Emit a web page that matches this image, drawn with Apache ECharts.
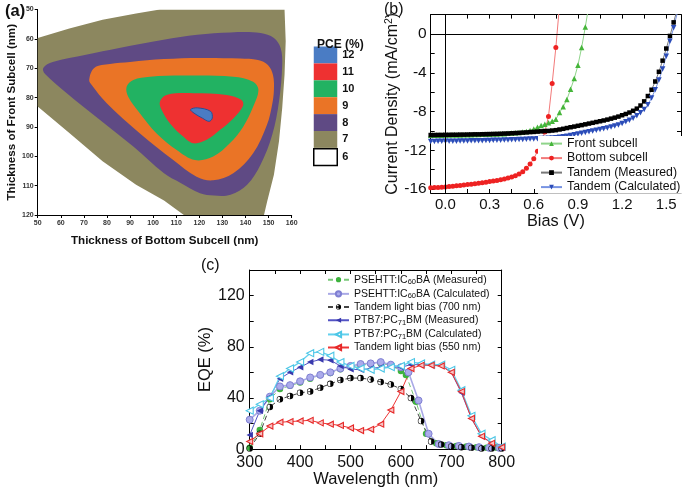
<!DOCTYPE html>
<html><head><meta charset="utf-8">
<script src="https://cdn.jsdelivr.net/npm/echarts@6/dist/echarts.min.js"></script>
<style>html,body{margin:0;padding:0;background:#fff}#c{width:682px;height:489px}</style>
</head><body><div id="c"></div>
<script>
// ---------- Panel (a): PCE contour boundaries [bottom thickness, front thickness] ----------
const pceLevels = ['12', '11', '10', '9', '8', '7', '6'];
const pce7 = [[50,59.7],[63.7,56.5],[78.1,53.5],[92.6,51.4],[102.9,50],[156.9,50],[157.4,60.8],[156.9,72.2],[155.9,83.5],[154.5,94.9],[152.3,106.3],[149.4,115.3],[148.0,120],[113.3,120],[104.7,115.1],[92.6,109.7],[78.1,101.7],[63.7,92.1],[50,83.0]];
const pce8 = [[52.4,69.9],[56.5,67.9],[70.9,65.4],[85.3,63.1],[104.5,60.3],[119.1,58.6],[133.5,57.8],[146.5,58.0],[152.3,59.7],[155.2,63.1],[155.9,68.8],[154.5,81.3],[151.6,92.6],[146.5,102.9],[140.7,109.7],[133.5,113.1],[126.3,113.4],[120.3,112.6],[111.9,109.1],[104.7,105.8],[91.4,96.7],[77.0,87.6],[62.6,78.5],[53.2,72.0]];
const pce9 = [[72.3,73.9],[74.5,69.9],[81.3,68.6],[90.0,67.9],[104.7,66.9],[120.3,66.5],[137.6,66.7],[145.4,67.2],[149.7,68.9],[151.9,72.3],[152.3,77.4],[151.5,82.5],[149.3,89.3],[143.3,99.0],[134.7,105.8],[126.0,108.2],[118.8,107.0],[108.7,101.3],[94.3,92.2],[79.9,81.9],[73.4,75.7]];
const pce10 = [[88.5,76.3],[91.4,74.0],[98.6,72.9],[113.0,72.5],[134.7,72.9],[143.3,74.6],[145.6,77.4],[143.3,83.1],[139.0,89.9],[133.2,95.6],[126.0,100.1],[118.1,101.3],[110.2,97.9],[101.5,92.2],[94.3,85.4],[89.2,79.7]];
const pce11 = [[102.9,81.5],[105.8,79.1],[117.4,78.5],[131.8,79.1],[138.3,80.8],[138.9,82.9],[134.7,87.1],[129.0,91.0],[123.2,94.4],[117.4,95.6],[113.0,93.3],[107.3,88.8],[103.7,84.2]];
const pce12 = [[116.2,84.1],[119.1,83.5],[124.9,84.7],[125.6,87.0],[124.2,88.1],[121.3,87.0],[117.7,85.3]];

// ---------- Panel (b): J-V curves ----------
const biasV = [-0.1,-0.075,-0.05,-0.025,0,0.025,0.05,0.075,0.1,0.125,0.15,0.175,0.2,0.225,0.25,0.275,0.3,0.325,0.35,0.375,0.4,0.425,0.45,0.475,0.5,0.525,0.55,0.575,0.6,0.625,0.65,0.675,0.7,0.725,0.75,0.775,0.8,0.825,0.85,0.875,0.9,0.925,0.95,0.975,1.0,1.025,1.05,1.075,1.1,1.125,1.15,1.175,1.2,1.225,1.25,1.275,1.3,1.325,1.35,1.375,1.4,1.425,1.45,1.475,1.5,1.525,1.55,1.575];
const jFront = [-10.45,-10.45,-10.44,-10.44,-10.43,-10.43,-10.42,-10.42,-10.41,-10.4,-10.39,-10.38,-10.37,-10.36,-10.35,-10.34,-10.33,-10.32,-10.31,-10.3,-10.28,-10.25,-10.22,-10.19,-10.15,-10.1,-10.05,-9.95,-9.8,-9.62,-9.45,-9.3,-9.15,-9.0,-8.8,-8.1,-7.5,-6.75,-5.7,-4.6,-3.23,-1.4,0.72,3];
const jBottom = [-15.86,-15.84,-15.82,-15.8,-15.77,-15.74,-15.71,-15.66,-15.62,-15.58,-15.53,-15.49,-15.44,-15.39,-15.33,-15.28,-15.22,-15.17,-15.12,-15.04,-14.95,-14.86,-14.76,-14.62,-14.45,-14.2,-13.85,-13.4,-12.87,-12.1,-11.3,-10.1,-8.5,-5.1,-1.4,3];
const jTandemMeas = [-10.42,-10.42,-10.41,-10.41,-10.4,-10.4,-10.39,-10.39,-10.38,-10.38,-10.37,-10.36,-10.35,-10.35,-10.34,-10.33,-10.32,-10.31,-10.3,-10.29,-10.27,-10.26,-10.24,-10.22,-10.2,-10.17,-10.15,-10.12,-10.1,-10.07,-10.04,-10.01,-10.0,-9.96,-9.92,-9.85,-9.78,-9.7,-9.62,-9.55,-9.47,-9.4,-9.32,-9.24,-9.16,-9.08,-9.0,-8.92,-8.83,-8.73,-8.63,-8.52,-8.38,-8.25,-8.1,-7.92,-7.7,-7.38,-6.95,-6.4,-5.75,-4.9,-3.9,-2.75,-1.5,-0.2,1.2,2.6];
const jTandemCalc = [-11.08,-11.08,-11.07,-11.07,-11.06,-11.06,-11.05,-11.05,-11.04,-11.04,-11.03,-11.02,-11.02,-11.01,-11.0,-10.99,-10.98,-10.97,-10.96,-10.95,-10.94,-10.93,-10.92,-10.9,-10.89,-10.87,-10.86,-10.84,-10.82,-10.8,-10.79,-10.77,-10.75,-10.73,-10.71,-10.66,-10.6,-10.54,-10.47,-10.4,-10.32,-10.24,-10.16,-10.08,-10.0,-9.92,-9.85,-9.78,-9.69,-9.6,-9.5,-9.38,-9.23,-9.06,-8.9,-8.68,-8.42,-8.13,-7.78,-7.3,-6.6,-5.75,-4.75,-3.6,-2.3,-0.75,0.65,2.2];
const biasLabelTicks = [0, 0.3, 0.6, 0.9, 1.2, 1.5];
const biasMinorTicks = [0, 0.15, 0.3, 0.45, 0.6, 0.75, 0.9, 1.05, 1.2, 1.35, 1.5];
const jLabelTicks = [-16, -12, -8, -4, 0];
const jMinorTicks = [-16, -14, -12, -10, -8, -6, -4, -2, 0, 2];

// ---------- Panel (c): EQE spectra ----------
const wavelength = [300,320,340,360,380,400,420,440,460,480,500,520,540,560,580,600,620,640,660,680,700,720,740,760,780,800];
const wavelengthPsehttMeas = [300,320,340,360,380,400,420,440,460,480,500,520,540,560,580,600,610,630,650,670,690,710,730,750,770,790];
const wavelengthPsehttCalc = [300,320,340,360,380,400,420,440,460,480,500,520,540,560,580,600,615,635,655,675,695,715,735,755,775,795];
const eqePsehttMeas = [1,15,39,47,49.5,52,55,58,59.5,62.5,64.5,65.5,66.5,67,65.5,61,58,37,12,4.5,3,2.5,2,1.5,1,1];
const eqePsehttCalc = [23,30,41,49,50,53,56,58,60,63,65,66.5,67,68,66,64,60,38,12,4,3,2.5,2,1.5,1,1];
const eqeBias700 = [0.5,12,33,39,41.5,44,45,48,51,54,55.5,55.5,54.5,52.5,50.5,47,40,22,6,3.5,2,1.5,1,0.5,0.5,0.5];
const eqePtb7Meas = [11,30,41,55,60,64,68,70,69.5,65,62.5,62,63,64,64,64,66,66,66,65.5,60,44,24,10,5,1];
const eqePtb7Calc = [30,35,40,57,63,68,75,76,73,68,65,63,62,63,64,65,68,67,66,66,62,46,26,12,7,2];
const eqeBias550 = [6,12,18,21,21.5,22,22.5,20.5,19.5,18.5,16.5,14.5,15.5,19.5,30.5,45,63,65.5,65.5,65,60,45,24,10,4.5,1.5];
const wlLabelTicks = [300,400,500,600,700,800];
const wlMinorTicks = [300,350,400,450,500,550,600,650,700,750,800];
const eqeLabelTicks = [0,40,80,120];
const eqeMinorTicks = [0,20,40,60,80,100,120,140];

// ---------- build ----------
const FONT = "'Liberation Sans', Arial, sans-serif";
const chart = echarts.init(document.getElementById('c'), null, {renderer: 'canvas'});

function contour(name, pts, color, smooth, stroke) {
  return {
    type: 'custom', name: name, xAxisIndex: 0, yAxisIndex: 0, clip: true, silent: true,
    data: pts, itemStyle: {color: color},
    renderItem: function (params, api) {
      if (params.dataIndex !== 0) return null;
      return {
        type: 'polygon',
        shape: {points: pts.map(function (p) { return api.coord(p); }), smooth: smooth},
        style: {fill: color, stroke: stroke || 'none', lineWidth: stroke ? 1 : 0}
      };
    }
  };
}
function pairs(xs, ys) { return ys.map(function (y, i) { return [xs[i], y]; }); }

const halfCircle = 'path://M0,-10A10,10 0 0,1 0,10ZM0,-10A10,10 0 0,0 0,10L0,8.3A8.3,8.3 0 0,1 0,-8.3Z';

const axisBlack = {lineStyle: {color: '#000', width: 1}, onZero: false};

const option = {
  animation: false,
  backgroundColor: '#fff',
  textStyle: {fontFamily: FONT},
  title: [
    {text: '(a)', left: 0, top: -2, textStyle: {fontSize: 16.5, fontWeight: 'bold', color: '#111', fontFamily: FONT}},
    {text: 'PCE (%)', left: 312, top: 34, textStyle: {fontSize: 12, fontWeight: 'bold', color: '#111', fontFamily: FONT}},
    {text: '(b)', left: 379, top: -3, textStyle: {fontSize: 16, fontWeight: 'normal', color: '#111', fontFamily: FONT}},
    {text: '(c)', left: 196, top: 253, textStyle: {fontSize: 16, fontWeight: 'normal', color: '#111', fontFamily: FONT}}
  ],
  grid: [
    {left: 37.7, top: 9.5, width: 254, height: 205.5},
    {left: 430.7, top: 14.6, width: 250.3, height: 178.4},
    {left: 249.7, top: 270, width: 252, height: 180.5}
  ],
  legend: [
    {
      data: pceLevels.map(function (n) { return n === '6' ? {name: n, itemStyle: {color: '#fff', borderColor: '#000', borderWidth: 1.5}} : n; }),
      orient: 'vertical', left: 313, top: 46.5, itemWidth: 23.5, itemHeight: 16.9, itemGap: 0, padding: 0,
      icon: 'rect', selectedMode: false,
      textStyle: {fontSize: 11, fontWeight: 'bold', color: '#111', fontFamily: FONT}
    },
    {
      data: ['Front subcell', 'Bottom subcell', 'Tandem (Measured)', 'Tandem (Calculated)'],
      orient: 'vertical', left: 538, top: 136, itemWidth: 21, itemHeight: 6, itemGap: 1.3,
      padding: [1, 2, 0, 2], backgroundColor: '#fff', selectedMode: false,
      textStyle: {fontSize: 12.3, color: '#111', fontFamily: FONT, lineHeight: 13.2}
    },
    {
      data: ['PSEHTT:IC60BA (Measured)', 'PSEHTT:IC60BA (Calculated)', 'Tandem light bias (700 nm)', 'PTB7:PC71BM (Measured)', 'PTB7:PC71BM (Calculated)', 'Tandem light bias (550 nm)'],
      orient: 'vertical', left: 327, top: 273, itemWidth: 21, itemHeight: 6.5, itemGap: 1.2, padding: 0, selectedMode: false,
      formatter: function (name) {
        return '{n|' + name.replace('IC60', 'IC}{s|60}{n|').replace('PC71', 'PC}{s|71}{n|') + '}';
      },
      textStyle: {
        fontSize: 10.5, color: '#111', fontFamily: FONT,
        rich: {
          n: {fontSize: 10.5, color: '#111', fontFamily: FONT, lineHeight: 12.7},
          s: {fontSize: 7.5, color: '#111', fontFamily: FONT, lineHeight: 7.5, verticalAlign: 'bottom', padding: [5, 0, 0, 0]}
        }
      }
    }
  ],
  xAxis: [
    {
      gridIndex: 0, type: 'value', min: 50, max: 160, interval: 10,
      axisLine: axisBlack, axisTick: {length: 3, lineStyle: {color: '#000'}},
      axisLabel: {fontSize: 7, fontWeight: 'bold', color: '#333', margin: 5, fontFamily: FONT},
      splitLine: {show: false},
      name: 'Thickness of Bottom Subcell (nm)', nameLocation: 'middle', nameGap: 20,
      nameTextStyle: {fontSize: 11.6, fontWeight: 'bold', color: '#111', fontFamily: FONT}
    },
    {
      gridIndex: 1, type: 'value', min: -0.1, max: 1.6,
      axisLine: axisBlack,
      axisTick: {inside: true, length: 4, customValues: biasMinorTicks, lineStyle: {color: '#000'}},
      axisLabel: {customValues: biasLabelTicks, formatter: function (v) { return v.toFixed(1); }, fontSize: 15, color: '#111', margin: 4, fontFamily: FONT},
      splitLine: {show: false},
      name: 'Bias (V)', nameLocation: 'middle', nameGap: 21,
      nameTextStyle: {fontSize: 16.3, color: '#111', fontFamily: FONT}
    },
    {
      gridIndex: 1, type: 'value', min: -0.1, max: 1.6, position: 'top',
      axisLine: axisBlack,
      axisTick: {inside: true, length: 4, customValues: biasMinorTicks, lineStyle: {color: '#000'}},
      axisLabel: {show: false}, splitLine: {show: false}
    },
    {
      gridIndex: 2, type: 'value', min: 300, max: 800,
      axisLine: axisBlack,
      axisTick: {inside: true, length: 4, customValues: wlMinorTicks, lineStyle: {color: '#000'}},
      axisLabel: {customValues: wlLabelTicks, fontSize: 16, color: '#111', margin: 5, fontFamily: FONT},
      splitLine: {show: false},
      name: 'Wavelength (nm)', nameLocation: 'middle', nameGap: 21,
      nameTextStyle: {fontSize: 16.5, color: '#111', fontFamily: FONT}
    },
    {
      gridIndex: 2, type: 'value', min: 300, max: 800, position: 'top',
      axisLine: axisBlack,
      axisTick: {inside: true, length: 4, customValues: wlMinorTicks, lineStyle: {color: '#000'}},
      axisLabel: {show: false}, splitLine: {show: false}
    }
  ],
  yAxis: [
    {
      gridIndex: 0, type: 'value', min: 50, max: 120, interval: 10, inverse: true,
      axisLine: axisBlack, axisTick: {length: 3, lineStyle: {color: '#000'}},
      axisLabel: {fontSize: 7, fontWeight: 'bold', color: '#333', margin: 4, fontFamily: FONT},
      splitLine: {show: false},
      name: 'Thickness of Front Subcell (nm)', nameLocation: 'middle', nameGap: 20,
      nameTextStyle: {fontSize: 11.6, fontWeight: 'bold', color: '#111', fontFamily: FONT}
    },
    {
      gridIndex: 1, type: 'value', min: -16.4, max: 2,
      axisLine: axisBlack,
      axisTick: {inside: true, length: 4, customValues: jMinorTicks, lineStyle: {color: '#000'}},
      axisLabel: {customValues: jLabelTicks, fontSize: 15.5, color: '#111', margin: 4, fontFamily: FONT},
      splitLine: {show: false},
      name: '{a|Current Density (mA/cm}{b|2}{a|)}', nameLocation: 'middle', nameGap: 28,
      nameTextStyle: {
        rich: {
          a: {fontSize: 16, color: '#111', fontFamily: FONT, lineHeight: 18},
          b: {fontSize: 10.5, color: '#111', fontFamily: FONT, lineHeight: 11, verticalAlign: 'top'}
        }
      }
    },
    {
      gridIndex: 1, type: 'value', min: -16.4, max: 2, position: 'right',
      axisLine: axisBlack,
      axisTick: {inside: true, length: 4, customValues: jMinorTicks, lineStyle: {color: '#000'}},
      axisLabel: {show: false}, splitLine: {show: false}
    },
    {
      gridIndex: 2, type: 'value', min: 0, max: 140,
      axisLine: axisBlack,
      axisTick: {inside: true, length: 4, customValues: eqeMinorTicks, lineStyle: {color: '#000'}},
      axisLabel: {customValues: eqeLabelTicks, fontSize: 16, color: '#111', margin: 5, fontFamily: FONT},
      splitLine: {show: false},
      name: 'EQE (%)', nameLocation: 'middle', nameGap: 28,
      nameTextStyle: {fontSize: 16.5, color: '#111', fontFamily: FONT}
    },
    {
      gridIndex: 2, type: 'value', min: 0, max: 140, position: 'right',
      axisLine: axisBlack,
      axisTick: {inside: true, length: 4, customValues: eqeMinorTicks, lineStyle: {color: '#000'}},
      axisLabel: {show: false}, splitLine: {show: false}
    }
  ],
  series: [
    contour('7', pce7, '#8c875f', 0),
    contour('8', pce8, '#5f4a84', 0.35),
    contour('9', pce9, '#ea7426', 0.35),
    contour('10', pce10, '#22b262', 0.35),
    contour('11', pce11, '#ee3131', 0.35),
    contour('12', pce12, '#4a7cc4', 0.35, '#2c4f94'),
    {type: 'custom', name: '6', xAxisIndex: 0, yAxisIndex: 0, data: [], itemStyle: {color: '#fff'}, renderItem: function () { return null; }},

    {
      type: 'line', name: 'Front subcell', xAxisIndex: 1, yAxisIndex: 1, data: pairs(biasV, jFront),
      symbol: 'triangle', symbolSize: 5.5, itemStyle: {color: '#45b53a'}, lineStyle: {color: '#8fd48a', width: 1},
      markLine: {silent: true, symbol: 'none', label: {show: false}, lineStyle: {color: '#000', width: 1, type: 'solid'}, data: [{yAxis: 0}, {xAxis: 0}]}
    },
    {
      type: 'line', name: 'Bottom subcell', xAxisIndex: 1, yAxisIndex: 1, data: pairs(biasV, jBottom),
      symbol: 'circle', symbolSize: 5, itemStyle: {color: '#ee2222'}, lineStyle: {color: '#f27a7a', width: 1}
    },
    {
      type: 'line', name: 'Tandem (Measured)', xAxisIndex: 1, yAxisIndex: 1, data: pairs(biasV, jTandemMeas),
      symbol: 'rect', symbolSize: 4.5, itemStyle: {color: '#000'}, lineStyle: {color: '#777', width: 1}
    },
    {
      type: 'line', name: 'Tandem (Calculated)', xAxisIndex: 1, yAxisIndex: 1, data: pairs(biasV, jTandemCalc),
      symbol: 'triangle', symbolRotate: 180, symbolSize: 5.5, itemStyle: {color: '#2b4cb8'}, lineStyle: {color: '#7793e2', width: 1}
    },

    {
      type: 'line', name: 'PSEHTT:IC60BA (Measured)', xAxisIndex: 3, yAxisIndex: 3, data: pairs(wavelengthPsehttMeas, eqePsehttMeas),
      symbol: 'circle', symbolSize: 6.5, itemStyle: {color: '#3db23d'}, lineStyle: {color: '#78c878', width: 1, type: [5, 3]}
    },
    {
      type: 'line', name: 'PSEHTT:IC60BA (Calculated)', xAxisIndex: 3, yAxisIndex: 3, data: pairs(wavelengthPsehttCalc, eqePsehttCalc),
      symbol: 'circle', symbolSize: 7, itemStyle: {color: '#ababeb', borderColor: '#7f7fd2', borderWidth: 1}, lineStyle: {color: '#a9a9e6', width: 1.6}
    },
    {
      type: 'line', name: 'Tandem light bias (700 nm)', xAxisIndex: 3, yAxisIndex: 3, data: pairs(wavelength, eqeBias700),
      symbol: halfCircle, symbolSize: 6.5, itemStyle: {color: '#000'}, lineStyle: {color: '#444', width: 1, type: [5, 3]}
    },
    {
      type: 'line', name: 'PTB7:PC71BM (Measured)', xAxisIndex: 3, yAxisIndex: 3, data: pairs(wavelength, eqePtb7Meas),
      symbol: 'triangle', symbolRotate: 90, symbolSize: 6.5, itemStyle: {color: '#3939ad'}, lineStyle: {color: '#5353c4', width: 1}
    },
    {
      type: 'line', name: 'PTB7:PC71BM (Calculated)', xAxisIndex: 3, yAxisIndex: 3, data: pairs(wavelength, eqePtb7Calc),
      symbol: 'triangle', symbolRotate: 90, symbolSize: 7, itemStyle: {color: '#ffffff', borderColor: '#4cc6e6', borderWidth: 1.1}, lineStyle: {color: '#62d0ee', width: 1.3}
    },
    {
      type: 'line', name: 'Tandem light bias (550 nm)', xAxisIndex: 3, yAxisIndex: 3, data: pairs(wavelength, eqeBias550),
      symbol: 'triangle', symbolRotate: 90, symbolSize: 6, itemStyle: {color: '#f7c4c4', borderColor: '#e62828', borderWidth: 1.1}, lineStyle: {color: '#ee3535', width: 1}
    }
  ]
};
chart.setOption(option);
</script></body></html>
